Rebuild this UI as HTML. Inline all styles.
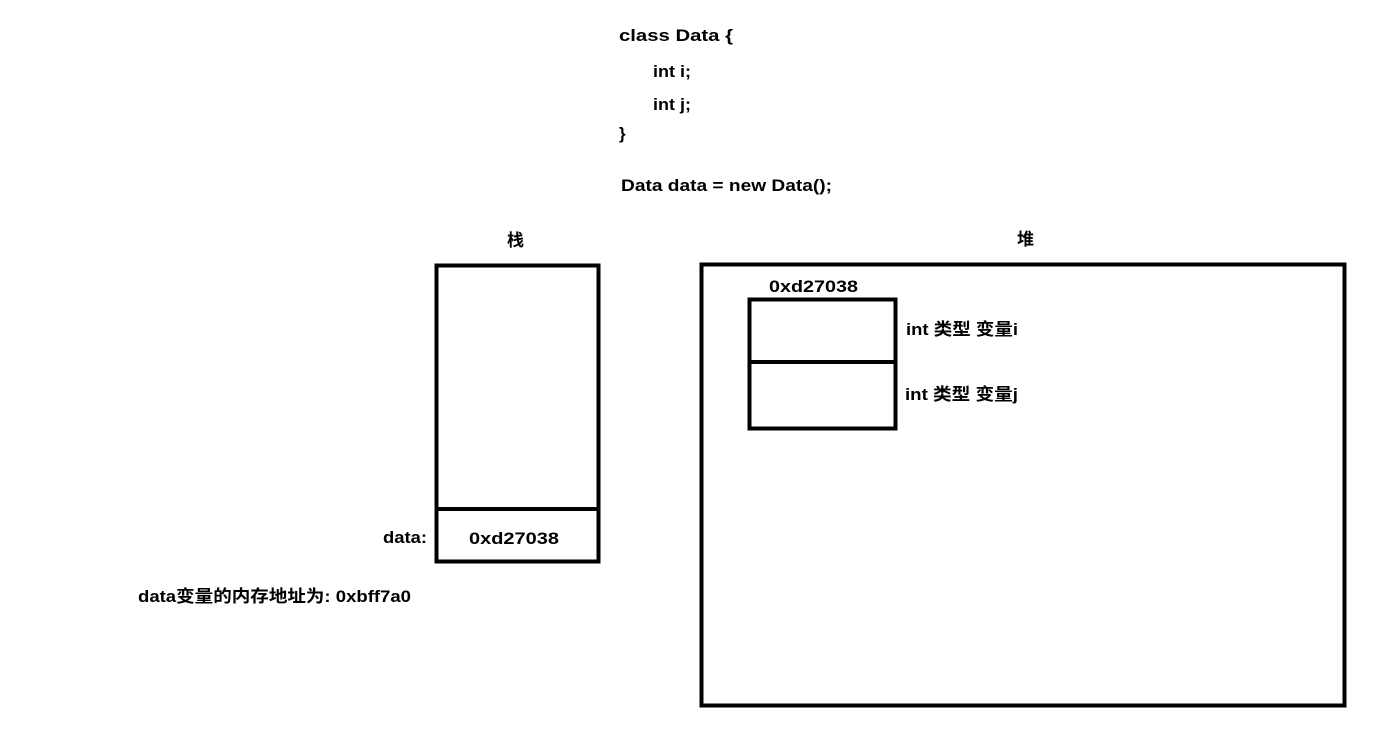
<!DOCTYPE html>
<html><head><meta charset="utf-8"><style>
html,body{margin:0;padding:0;background:#fff;}
svg text{font-family:"Liberation Sans","Noto Sans CJK SC",sans-serif;font-weight:bold;font-size:17px;fill:#000;}
</style></head><body>
<svg width="1377" height="738" xmlns="http://www.w3.org/2000/svg">
<text x="619" y="41" textLength="114" lengthAdjust="spacingAndGlyphs">class  Data  {</text>
<text x="653" y="77" textLength="38" lengthAdjust="spacingAndGlyphs">int i;</text>
<text x="653" y="110" textLength="38" lengthAdjust="spacingAndGlyphs">int j;</text>
<text x="619" y="139">}</text>
<text x="621" y="191" textLength="211" lengthAdjust="spacingAndGlyphs">Data data = new Data();</text>
<text x="507" y="246">栈</text>
<text x="1017" y="245">堆</text>
<rect x="436.5" y="265.5" width="162" height="296" fill="none" stroke="#000" stroke-width="4"/>
<line x1="436" y1="509" x2="599" y2="509" stroke="#000" stroke-width="4"/>
<text x="469" y="544" textLength="90" lengthAdjust="spacingAndGlyphs">0xd27038</text>
<text x="383" y="543" textLength="44" lengthAdjust="spacingAndGlyphs">data:</text>
<text x="138" y="602" textLength="273" lengthAdjust="spacingAndGlyphs">data变量的内存地址为: 0xbff7a0</text>
<rect x="701.5" y="264.5" width="643" height="441" fill="none" stroke="#000" stroke-width="4"/>
<text x="769" y="292" textLength="89" lengthAdjust="spacingAndGlyphs">0xd27038</text>
<rect x="749.5" y="299.5" width="146" height="129" fill="none" stroke="#000" stroke-width="4"/>
<line x1="749" y1="362" x2="896" y2="362" stroke="#000" stroke-width="4"/>
<text x="906" y="335" textLength="112" lengthAdjust="spacingAndGlyphs">int 类型 变量i</text>
<text x="905" y="400" textLength="113" lengthAdjust="spacingAndGlyphs">int 类型 变量j</text>
</svg>
</body></html>
